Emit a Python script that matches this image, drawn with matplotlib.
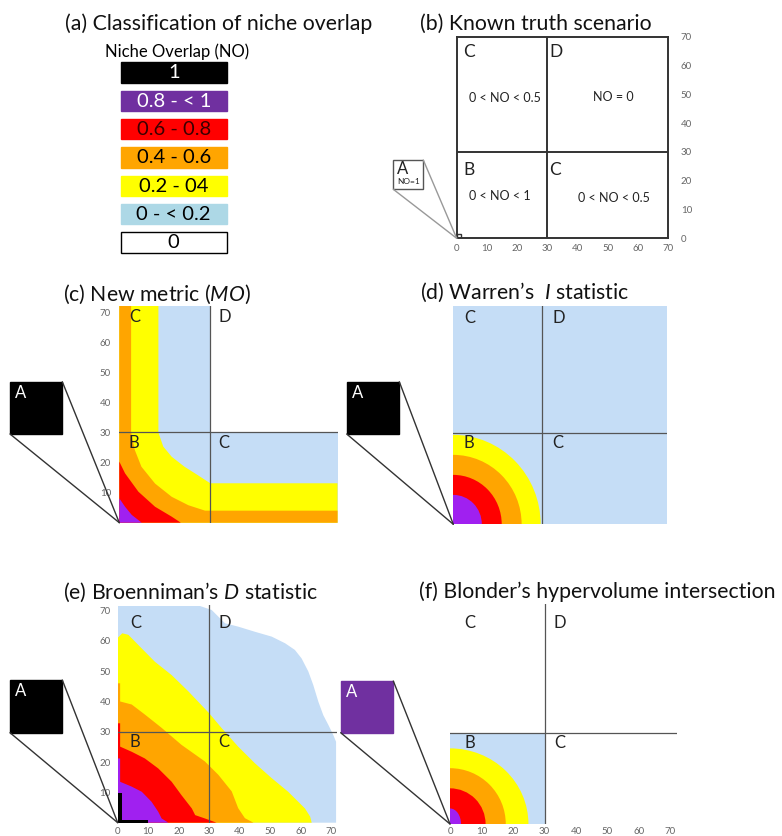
import matplotlib
matplotlib.use("Agg")
import matplotlib.pyplot as plt
from matplotlib.patches import Rectangle, Ellipse, Polygon, ConnectionPatch

plt.rcParams['font.family'] = ['Lato', 'DejaVu Sans']
plt.rcParams['mathtext.fontset'] = 'custom'
plt.rcParams['mathtext.it'] = 'Lato:italic'
plt.rcParams['mathtext.rm'] = 'Lato'

# ---------------------------------------------------------------------------
# data (niche-space units 0..72)
# ---------------------------------------------------------------------------
legend_labels = ["1", "0.8 - < 1", "0.6 - 0.8", "0.4 - 0.6", "0.2 - 04", "0 - < 0.2", "0"]
legend_colors = ["#000000", "#7030A0", "#FF0000", "#FFA500", "#FFFF00", "#ADD8E6", "#FFFFFF"]
legend_text_colors = ["white", "white", "#3a0000", "black", "black", "black", "black"]

ticks = [0, 10, 20, 30, 40, 50, 60, 70]
quad_letters = ["C", "D", "B", "C"]
truth_texts = ["0 < NO < 0.5", "NO = 0", "0 < NO < 1", "0 < NO < 0.5"]

# (c) new metric: band boundaries, from y-axis side to x-axis side
c_blue_x = [30, 30, 72]
c_blue_y = [72, 30, 30]
c_yellow_x = [12.9, 12.9, 14.5, 17.3, 21.5, 25.9, 30, 72]
c_yellow_y = [72, 30, 25.3, 21.9, 18.6, 15.8, 13.1, 13.1]
c_orange_x = [3.9, 3.9, 5.1, 7.3, 11.8, 17.3, 22.8, 28.3, 72]
c_orange_y = [72, 30, 24.2, 18.6, 13.0, 8.6, 5.8, 4.0, 4.0]
c_red_x = [0, 1.9, 6.3, 11.8, 17.3, 20.3]
c_red_y = [20.3, 16.4, 10.3, 5.3, 2.0, 0]
c_purple_x = [0, 1.9, 4.1, 7.4]
c_purple_y = [8.1, 5.3, 2.6, 0]

# (d) Warren's I: quarter-ring semi-axes (x, y), outermost first
d_radii_x = [29.4, 23.0, 16.3, 9.6]
d_radii_y = [29.5, 22.9, 16.3, 9.7]

# (e) Broenniman's D
e_blue_x = [0, 27, 30.8, 35.2, 39.5, 45, 50.5, 54.9, 58.1, 60.3, 62.5, 64.1,
            65.8, 67.4, 69.1, 70.7, 71.6, 71.6]
e_blue_y = [71.5, 71.5, 70.2, 65.8, 64.7, 63.0, 61.4, 59.2, 57.0, 54.2, 49.9,
            45.5, 39.9, 35.5, 32.2, 28.9, 26.7, 0]
e_yellow_x = [0, 1.5, 3.5, 6.8, 12.2, 17.7, 23.2, 30, 34.1, 39.5, 45, 50.5,
              55.9, 61.4, 63.1, 63.6]
e_yellow_y = [61.0, 62.5, 62.0, 58.6, 53.1, 48.7, 43.3, 36.1, 31.2, 25.1,
              19.6, 14.7, 10.2, 4.7, 2.0, 0]
e_orange_x = [0, 0.8, 0.8, 4.6, 8.9, 14.4, 20.9, 28.6, 33.0, 37.4, 39.5, 41.7, 44.5]
e_orange_y = [46, 46, 40, 39, 35.7, 31.3, 25.7, 20.2, 15.8, 10.3, 4.8, 1.5, 0]
e_red_x = [0, 0.8, 0.8, 4.6, 8.9, 13.3, 17.7, 20.9, 24.3, 25.4, 28.6, 32.4]
e_red_y = [32.8, 32.8, 25.1, 23.4, 21.2, 17.9, 13.5, 9.1, 4.7, 2.5, 1.4, 0]
e_purple_x = [0, 0.8, 0.8, 4.6, 7.9, 11.1, 13.3, 14.4, 16.6]
e_purple_y = [21.2, 21.2, 13.5, 11.9, 10.2, 6.9, 3.6, 1.4, 0]
e_black_x = [0, 0, 1.3, 1.3, 10, 10]
e_black_y = [0, 9.7, 9.7, 1.0, 1.0, 0]

# (f) Blonder's hypervolume
f_blue_side = 30
f_radii_x = [24.9, 17.7, 11.3, 3.5]
f_radii_y = [24.8, 18.3, 11.7, 5.1]

BLUE, YEL, ORA, RED, PUR = "#C5DDF6", "#FFFF00", "#FFA500", "#FF0000", "#A020F0"
ring_colors = [YEL, ORA, RED, PUR]
LINE = "#555555"

# ---------------------------------------------------------------------------
W, H = 782, 836
fig = plt.figure(figsize=(W / 100, H / 100), dpi=100)

over = fig.add_axes([0, 0, 1, 1])
over.set_xlim(0, W)
over.set_ylim(H, 0)
over.axis("off")


def px_axes(l, b, r, t, lim=72):
    ax = fig.add_axes([l / W, 1 - b / H, (r - l) / W, (b - t) / H])
    ax.set_xlim(0, lim)
    ax.set_ylim(0, lim)
    ax.set_facecolor("none")
    for s in ax.spines.values():
        s.set_visible(False)
    ax.set_xticks([])
    ax.set_yticks([])
    ax.tick_params(length=0, labelsize=7, labelcolor="#666666")
    return ax


def band(ax, xs, ys, color):
    pts = list(zip(xs, ys)) + [(xs[-1], 0), (0, 0), (0, ys[0])]
    ax.add_patch(Polygon(pts, closed=True, facecolor=color, edgecolor="none"))


def rings(ax, rx, ry):
    for a, b, c in zip(rx, ry, ring_colors):
        ax.add_patch(Ellipse((0, 0), 2 * a, 2 * b, facecolor=c, edgecolor="none"))


def quads(ax, xl, xr, yt, yb, size=12):
    pos = [(xl, yt), (xr, yt), (xl, yb), (xr, yb)]
    for (x, y), s in zip(pos, quad_letters):
        ax.text(x, y, s, fontsize=size, ha="left", va="center", color="#222222")


def inset(ax, x0, y0, x1, y1, color, lc="#333333"):
    over.add_patch(Rectangle((x0, y0), x1 - x0, y1 - y0, facecolor=color,
                             edgecolor=color, lw=1))
    over.text(x0 + 5, y0 + 3, "A", color="white", fontsize=12, ha="left", va="top")
    for cx, cy in [(x1, y0), (x0, y1)]:
        fig.add_artist(ConnectionPatch((cx, cy), (0, 0), coordsA=over.transData,
                                       coordsB=ax.transData, color=lc, lw=1.0))


# ---- titles ---------------------------------------------------------------
title_kw = dict(fontsize=15.3, ha="left", va="center", color="#111111")
over.text(65, 24, "(a) Classification of niche overlap", **title_kw)
over.text(420, 23.5, "(b) Known truth scenario", **title_kw)
over.text(63, 294, r"(c) New metric ($\mathit{MO}$)", **title_kw)
over.text(420, 292, r"(d) Warren’s  $\mathit{I}$ statistic", **title_kw)
over.text(63, 592, r"(e) Broenniman’s $\mathit{D}$ statistic", **title_kw)
over.text(419, 592, "(f) Blonder’s hypervolume intersection", **title_kw)

# ---- (a) legend -------------------------------------------------------------
over.text(176.7, 51.7, "Niche Overlap (NO)", fontsize=12, ha="center", va="center")
for i, (lab, col, tc) in enumerate(zip(legend_labels, legend_colors, legend_text_colors)):
    y0 = 62.3 + i * 28.3
    over.add_patch(Rectangle((120.7, y0), 106, 20.5, facecolor=col,
                             edgecolor="black" if col == "#FFFFFF" else col, lw=1))
    over.text(173.7, y0 + 10.5, lab, fontsize=14.5, color=tc, ha="center", va="center")

# ---- (b) known truth ----------------------------------------------------------
axb = px_axes(456.7, 238.3, 668.3, 36.7, lim=70)
for s in axb.spines.values():
    s.set_visible(True)
    s.set_linewidth(1.4)
    s.set_color("#333333")
axb.axvline(30, color="#333333", lw=1.4)
axb.axhline(30, color="#333333", lw=1.4)
axb.add_patch(Rectangle((0, 0), 1.5, 1.5, facecolor="none", edgecolor="#333333", lw=1))
axb.set_xticks(ticks)
axb.set_yticks(ticks)
axb.yaxis.tick_right()
axb.tick_params(axis="x", pad=4)
axb.tick_params(axis="y", pad=9)
for lab in axb.get_yticklabels():
    lab.set_horizontalalignment("left")
quads(axb, 2.2, 30.5, 64.8, 23.7, size=12.5)
for (x, y), s in zip([(16, 48.8), (51.7, 49), (14.3, 14.7), (52.1, 14.1)], truth_texts):
    axb.text(x, y, s, fontsize=9, ha="center", va="center", color="#222222")
over.add_patch(Rectangle((393.3, 160), 30, 29.3, facecolor="white",
                         edgecolor="#555555", lw=1))
over.text(402.5, 169, "A", fontsize=12, ha="center", va="center", color="#222222")
over.text(408.3, 182, "NO=1", fontsize=6, ha="center", va="center", color="#222222")
for cx, cy in [(423.3, 160), (393.3, 189.3)]:
    fig.add_artist(ConnectionPatch((cx, cy), (0, 0), coordsA=over.transData,
                                   coordsB=axb.transData, color="#999999", lw=1.0))

# ---- (c) new metric ----------------------------------------------------------
axc = px_axes(119.3, 522.7, 337.5, 306)
band(axc, c_blue_x, c_blue_y, BLUE)
band(axc, c_yellow_x, c_yellow_y, YEL)
band(axc, c_orange_x, c_orange_y, ORA)
band(axc, c_red_x, c_red_y, RED)
band(axc, c_purple_x, c_purple_y, PUR)
axc.axvline(30, color=LINE, lw=0.9)
axc.axhline(30, color=LINE, lw=0.9)
axc.set_yticks(ticks[1:])
axc.tick_params(axis="y", pad=6)
quads(axc, 3.2, 32.6, 68.2, 26.6)
inset(axc, 10, 381.7, 62.3, 434, "black")

# ---- (d) Warren's I ----------------------------------------------------------
axd = px_axes(453.3, 524.3, 667.2, 306)
axd.add_patch(Rectangle((0, 0), 72, 72, facecolor=BLUE, edgecolor="none"))
rings(axd, d_radii_x, d_radii_y)
axd.axvline(30, color=LINE, lw=0.9)
axd.axhline(30, color=LINE, lw=0.9)
quads(axd, 3.6, 33.3, 68, 26.8)
inset(axd, 346.7, 381.7, 399.3, 434, "black")

# ---- (e) Broenniman's D -------------------------------------------------------
axe = px_axes(117.7, 822.7, 337.3, 604.5)
band(axe, e_blue_x, e_blue_y, BLUE)
band(axe, e_yellow_x, e_yellow_y, YEL)
band(axe, e_orange_x, e_orange_y, ORA)
band(axe, e_red_x, e_red_y, RED)
band(axe, e_purple_x, e_purple_y, PUR)
axe.fill(e_black_x, e_black_y, color="black", lw=0)
axe.axvline(30, color=LINE, lw=0.9)
axe.axhline(30, color=LINE, lw=0.9)
axe.set_xticks(ticks)
axe.set_yticks(ticks[1:])
axe.tick_params(axis="x", pad=3)
axe.tick_params(axis="y", pad=5)
quads(axe, 4.0, 33, 65.9, 26.5)
inset(axe, 10, 680, 62.3, 732.7, "black")

# ---- (f) Blonder's hypervolume ----------------------------------------------
axf = px_axes(450, 824, 676.8, 604.4)
axf.add_patch(Rectangle((0, 0), f_blue_side, f_blue_side, facecolor=BLUE, edgecolor="none"))
rings(axf, f_radii_x, f_radii_y)
axf.axvline(30, color=LINE, lw=0.9)
axf.axhline(30, color=LINE, lw=0.9)
axf.set_xticks(ticks)
axf.tick_params(axis="x", pad=2)
quads(axf, 4.5, 33, 65.9, 26.7)
inset(axf, 340.7, 681, 393.3, 732.7, "#7030A0")

fig.savefig("out.png", dpi=100)
